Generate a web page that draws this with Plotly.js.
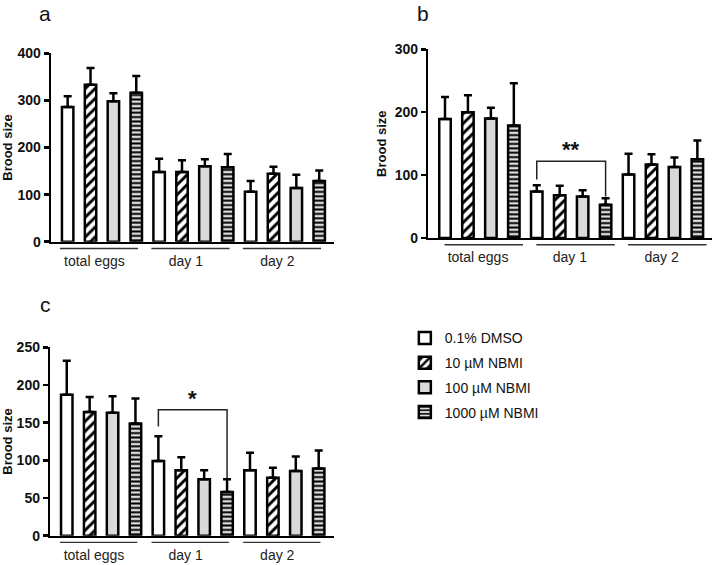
<!DOCTYPE html>
<html><head><meta charset="utf-8">
<script src="https://cdn.plot.ly/plotly-3.0.1.min.js"></script>
<style>html,body{margin:0;padding:0;background:#fff}</style>
</head><body><div id="chart" style="width:714px;height:565px"></div>
<script>
// ---- data ----
const categories = ['total eggs', 'day 1', 'day 2'];
const seriesNames = ['0.1% DMSO', '10 µM NBMI', '100 µM NBMI', '1000 µM NBMI'];

// panel a: mean brood size (rows = series, cols = categories) and SD
const meansA = [[286, 148, 106], [333, 148, 144], [298, 160, 114], [316, 158, 129]];
const sdA    = [[23, 28, 23],    [36, 25, 15],    [17, 15, 28],    [36, 28, 22]];
// panel b
const meansB = [[189, 74, 101], [200, 68, 117], [190, 66, 113], [179, 53, 125]];
const sdB    = [[35, 10, 33],   [27, 15, 16],   [17, 10, 15],   [67, 10, 30]];
// panel c
const meansC = [[187, 99, 87], [164, 87, 77], [163, 75, 86], [149, 58, 89]];
const sdC    = [[45, 33, 23],  [20, 17, 13],  [22, 12, 19],  [33, 17, 24]];

// significance brackets (category, first series, last series, label, bracket height, leg ends)
const sigB = {cat: 'day 1', s0: 0, s1: 3, label: '**', y: 122, yl: 93, yr: 66};
const sigC = {cat: 'day 1', s0: 0, s1: 3, label: '*',  y: 167, yl: 145, yr: 76};

// ---- styles ----
const FONT = 'Liberation Sans, Arial, sans-serif';
const styles = [
  {color: '#ffffff', pattern: {shape: ''}},
  {color: '#ffffff', pattern: {shape: '/', fgcolor: '#000', bgcolor: '#fff', size: 7, solidity: 0.42, fillmode: 'replace'}},
  {color: '#d9d9d9', pattern: {shape: ''}},
  {color: '#d9d9d9', pattern: {shape: '-', fgcolor: '#000', bgcolor: '#dcdcdc', size: 4.4, solidity: 0.45, fillmode: 'replace'}}
];

const panels = [
  {letter: 'a', means: meansA, sd: sdA, xa: 'x', ya: 'y', xd: [0.0717, 0.4679], yd: [0.5722, 0.9057], yr: [0, 400], dtick: 100, line: [-0.34, 3.08], lab: 1.17, sig: null, lx: 45, ly: 13},
  {letter: 'b', means: meansB, sd: sdB, xa: 'x2', ya: 'y2', xd: [0.6001, 0.9976], yd: [0.5788, 0.9127], yr: [0, 300], dtick: 100, line: [-0.02, 3.40], lab: 1.44, sig: sigB, lx: 423, ly: 13},
  {letter: 'c', means: meansC, sd: sdC, xa: 'x3', ya: 'y3', xd: [0.0704, 0.4672], yd: [0.0519, 0.3853], yr: [0, 250], dtick: 50, line: [-0.30, 3.08], lab: 1.19, sig: sigC, lx: 45, ly: 304}
];

const nS = seriesNames.length;
const pos = (gi, si) => gi * nS + si;

const traces = [];
const shapes = [];
const annotations = [];
const layout = {
  width: 714, height: 565,
  margin: {l: 0, r: 0, t: 0, b: 0},
  paper_bgcolor: '#fff', plot_bgcolor: '#fff',
  barmode: 'overlay',
  showlegend: true,
  font: {family: FONT, color: '#000'},
  legend: {x: 0.567, y: 0.4295, xanchor: 'left', yanchor: 'top', font: {size: 14, family: FONT, color: '#111'},
           tracegroupgap: 3.5, bgcolor: 'rgba(0,0,0,0)', itemclick: false},
  shapes: shapes, annotations: annotations
};

panels.forEach((p, pi) => {
  seriesNames.forEach((name, si) => {
    traces.push({
      type: 'bar', name: name, legendgroup: name, showlegend: pi === 0,
      xaxis: p.xa, yaxis: p.ya,
      x: categories.map((c, gi) => pos(gi, si)),
      y: p.means[si],
      width: 0.5,
      marker: {color: styles[si].color, pattern: styles[si].pattern, line: {color: '#000', width: 2.5}},
      error_y: {type: 'data', symmetric: false, array: p.sd[si], arrayminus: p.sd[si].map(() => 0),
                color: '#000', thickness: 2.5, width: 4},
      hoverinfo: 'skip'
    });
  });
  const xk = p.xa === 'x' ? 'xaxis' : 'xaxis' + p.xa.slice(1);
  const yk = p.ya === 'y' ? 'yaxis' : 'yaxis' + p.ya.slice(1);
  layout[xk] = {
    domain: p.xd, anchor: p.ya, range: [-0.72, 11.65], showgrid: false, zeroline: false,
    showline: true, linewidth: 2.5, linecolor: '#000', ticks: '',
    tickvals: categories.map((c, gi) => pos(gi, p.lab)), ticktext: categories,
    ticklabelstandoff: 5,
    tickfont: {size: 14, family: FONT, color: '#222'}, fixedrange: true
  };
  layout[yk] = {
    domain: p.yd, anchor: p.xa, range: p.yr, dtick: p.dtick, tick0: 0, showgrid: false, zeroline: false,
    showline: true, linewidth: 2.5, linecolor: '#000', ticks: 'outside', ticklen: 5, tickwidth: 2.5, tickcolor: '#000',
    tickfont: {size: 14, family: FONT, weight: 'bold', color: '#111'},
    title: {text: 'Brood size', font: {size: 13, family: FONT, weight: 'bold', color: '#111'}, standoff: 6},
    fixedrange: true
  };
  // group underlines
  categories.forEach((c, gi) => {
    shapes.push({type: 'line', xref: p.xa, yref: p.ya + ' domain',
      x0: pos(gi, p.line[0]), x1: pos(gi, p.line[1]), y0: -0.036, y1: -0.036,
      line: {color: '#333', width: 1.3}});
  });
  // significance bracket
  if (p.sig) {
    const gi = categories.indexOf(p.sig.cat);
    const x0 = pos(gi, p.sig.s0), x1 = pos(gi, p.sig.s1);
    shapes.push({type: 'path', xref: p.xa, yref: p.ya,
      path: `M${x0},${p.sig.yl} L${x0},${p.sig.y} L${x1},${p.sig.y} L${x1},${p.sig.yr}`,
      line: {color: '#222', width: 1.5}});
    annotations.push({xref: p.xa, yref: p.ya, x: (x0 + x1) / 2, y: p.sig.y, yanchor: 'bottom', yshift: -3,
      text: p.sig.label, showarrow: false, font: {size: 22, family: FONT, weight: 'bold', color: '#111'}});
  }
  annotations.push({xref: 'paper', yref: 'paper', x: p.lx / 714, y: 1 - p.ly / 565, xanchor: 'center', yanchor: 'middle',
    text: p.letter, showarrow: false, font: {size: 21, family: FONT, color: '#111'}});
});

Plotly.newPlot('chart', traces, layout, {staticPlot: true, displayModeBar: false});
</script>
</body></html>
